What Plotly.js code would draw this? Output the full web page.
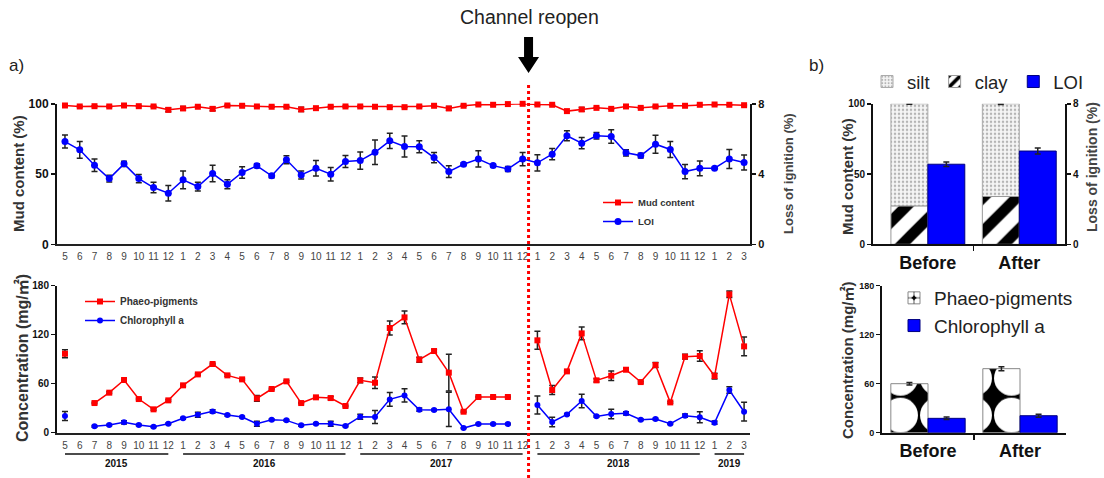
<!DOCTYPE html>
<html>
<head>
<meta charset="utf-8">
<script src="https://cdn.plot.ly/plotly-3.0.1.min.js"></script>
<style>html,body{margin:0;padding:0;background:#fff;}#chart{width:1104px;height:478px;}</style>
</head>
<body>
<div id="chart"></div>
<script>
// ---------- DATA ----------
const months = [5,6,7,8,9,10,11,12, 1,2,3,4,5,6,7,8,9,10,11,12, 1,2,3,4,5,6,7,8,9,10,11,12, 1,2,3,4,5,6,7,8,9,10,11,12, 1,2,3];
const mudContent = [98.8,98.1,98.3,98.1,98.8,98.3,98.1,95.7, 96.7,97.9,96.4,98.8,98.6,98.1,97.9,97.9,96.0,96.9,97.9,98.1, 98.1,97.9,97.6,97.6,98.1,98.6,96.7,98.6,99.5,99.3,99.8,100, 99.5,99.3,94.8,96.0,97.1,96.4,98.1,97.1,98.1,98.6,98.6,99.3, 99.5,99.3,99.0];
const mudErr = [0.3,0.3,0.3,0.3,0.3,0.3,0.3,1.3, 1.3,0.3,1.3,0.3,0.3,0.3,0.3,0.3,1.5,0.3,0.3,0.3, 0.3,0.3,0.3,0.3,0.3,0.3,1.3,0.3,0.3,0.3,0.3,0.3, 0.3,0.3,0.3,1.3,0.3,0.3,0.3,0.3,0.3,0.3,0.3,0.3, 0.3,0.3,0.3];
const loi = [5.85,5.38,4.50,3.74,4.58,3.74,3.23,2.91, 3.67,3.29,4.03,3.42,4.09,4.47,3.90,4.81,3.95,4.33,3.99,4.71, 4.77,5.24,5.89,5.57,5.55,4.94,4.14,4.56,4.86,4.48,4.29,4.85, 4.64,5.13,6.18,5.76,6.18,6.14,5.21,5.05,5.70,5.40,4.14,4.33, 4.33,4.86,4.66];
const loiErr = [0.37,0.48,0.36,0.19,0.15,0.23,0.30,0.44, 0.51,0.25,0.47,0.25,0.33,0.11,0.11,0.23,0.23,0.44,0.39,0.34, 0.49,0.70,0.43,0.60,0.34,0.29,0.33,0.08,0.46,0.08,0.14,0.38, 0.46,0.32,0.29,0.32,0.19,0.38,0.18,0.13,0.51,0.46,0.41,0.42, 0.06,0.54,0.43];
const phaeo = [96.7,null,36.3,49.0,64.5,41.2,28.6,39.6, 58.0,71.4,84.1,70.2,65.3,42.0,53.5,62.9,36.3,43.3,42.4,32.7, 64.1,61.2,128.2,141.2,89.4,100.0,73.5,25.7,43.7,43.7,43.7,null, 113.1,52.2,75.1,121.6,64.1,69.8,77.1,62.0,82.9,37.1,93.1,93.9, 69.4,169.4,105.7];
const phaeoErr = [5,null,1,1,1,1,1,1, 1,1,1,1,1,3.5,1,1,1,1,2,1, 3,7,8.5,7.8,3,2,22.5,1,1,1,1,null, 11,5.5,1,7.8,2,5.9,1,1,3,1,3,6.5, 3.5,4,11.5];
const chl = [20.4,null,7.8,9.4,12.7,9.4,7.3,11.0, 17.6,22.0,26.1,21.6,19.2,11.0,15.9,15.1,9.0,11.0,11.0,8.2, 19.6,19.2,40.8,45.7,28.2,27.8,28.6,5.7,10.6,10.6,10.6,null, 33.9,13.1,22.4,38.8,20.0,22.9,23.7,15.9,16.7,11.0,20.8,18.8, 12.2,52.2,25.7];
const chlErr = [5.5,null,1,1,2,1,1,1, 1,3,2,1,1,3,1,1,1,1,3,1, 3,8,8.5,8,2,1,21,0.5,1,1,1,null, 11,5.7,1,8.3,1,5.7,2,1,1,1,2,6.7, 2,4,11.5];

const years = ['2015','2016','2017','2018','2019'];
const yearStart = [0,8,20,32,44];
const yearEnd = [7,19,31,43,46];
const reopenX = 31.4;

const groups = ['Before','After'];
const clay = [27.2, 34.0];
const silt = [72.8, 66.0];
const siltErr = [0.3, 0.5];
const loiMean = [4.56, 5.31];
const loiMeanErr = [0.13, 0.17];
const phaeoMean = [60.0, 78.4];
const phaeoMeanErr = [1.5, 2.5];
const chlMean = [17.6, 20.8];
const chlMeanErr = [1.5, 1.8];

// ---------- HELPERS ----------
const W = 1104, H = 478;
const px = v => v / W;
const py = v => 1 - v / H;
const FONT = 'Liberation Sans, Arial, Noto Sans CJK SC, sans-serif';
const RED = '#ff0000', BLUE = '#0000ff';
const idx = months.map((_, i) => i);
const gx = groups.map((_, i) => i);
const BW = 0.404;

const errStyle = arr => ({type:'data', array:arr, visible:true, color:'#222', thickness:1.5, width:3});

const traces = [
  {x: idx, y: mudContent, xaxis:'x', yaxis:'y', name:'Mud content', legend:'legend', mode:'lines+markers',
   line:{color:RED, width:1.5}, marker:{symbol:'square', size:6, color:RED}, error_y: errStyle(mudErr), cliponaxis:false},
  {x: idx, y: loi, xaxis:'x', yaxis:'y2', name:'LOI', legend:'legend', mode:'lines+markers',
   line:{color:BLUE, width:1.5}, marker:{symbol:'circle', size:7, color:BLUE}, error_y: errStyle(loiErr), cliponaxis:false},
  {x: idx, y: phaeo, xaxis:'x2', yaxis:'y3', name:'Phaeo-pigments', legend:'legend2', mode:'lines+markers',
   line:{color:RED, width:1.5}, marker:{symbol:'square', size:6, color:RED}, error_y: errStyle(phaeoErr), connectgaps:false, cliponaxis:false},
  {x: idx, y: chl, xaxis:'x2', yaxis:'y3', name:'Chlorophyll a', legend:'legend2', mode:'lines+markers',
   line:{color:BLUE, width:1.5}, marker:{symbol:'circle', size:6, color:BLUE}, error_y: errStyle(chlErr), connectgaps:false, cliponaxis:false},
  // b) top
  {type:'bar', x: gx, y: silt, base: clay, xaxis:'x3', yaxis:'y4', name:'silt', legend:'legend3', width:BW, offset:-BW,
   marker:{color:'#f3f3f3', pattern:{shape:'.', fgcolor:'#b5b5b5', bgcolor:'#f5f5f5', size:4, solidity:0.3}, line:{color:'#aaaaaa', width:1}},
   error_y: errStyle(siltErr)},
  {type:'bar', x: gx, y: clay, xaxis:'x3', yaxis:'y4', name:'clay', legend:'legend3', width:BW, offset:-BW,
   marker:{color:'#ffffff', pattern:{shape:'/', fgcolor:'#000000', bgcolor:'#ffffff', size:24, solidity:0.45}, line:{color:'#999999', width:1}}},
  {type:'bar', x: gx, y: loiMean, xaxis:'x3', yaxis:'y5', name:'LOI', legend:'legend3', width:BW, offset:0,
   marker:{color:BLUE, line:{color:'#000080', width:1}}, error_y: errStyle(loiMeanErr)},
  // b) bottom
  {type:'bar', x: gx, y: phaeoMean, xaxis:'x4', yaxis:'y6', name:'Phaeo-pigments', legend:'legend4', width:BW, offset:-BW,
   marker:{color:'#000000', pattern:{shape:'.', fgcolor:'#ffffff', bgcolor:'#000000', size:37, solidity:0.7}, line:{color:'#888888', width:1}},
   error_y: errStyle(phaeoMeanErr)},
  {type:'bar', x: gx, y: chlMean, xaxis:'x4', yaxis:'y6', name:'Chlorophyll a', legend:'legend4', width:BW, offset:0,
   marker:{color:BLUE, line:{color:'#000080', width:1}}, error_y: errStyle(chlMeanErr)}
];

const LX = [px(57), px(750)];
const TY = [py(244.3), py(103.8)];
const BY = [py(432.7), py(285.7)];

const monthTick = {family:FONT, size:10, color:'#444'};
const yTick = (s) => ({family:FONT, size:s, color:'#111', weight:'bold'});
const yBase = {showline:true, linecolor:'#111', linewidth:2, ticks:'outside', ticklen:4, tickwidth:1.5, tickcolor:'#111',
  showgrid:false, zeroline:false, fixedrange:true};
const xMonth = {range:[-0.54, 46.4], tickmode:'array', tickvals: idx, ticktext: months.map(String), tickfont: monthTick,
  showline:true, linecolor:'#222', linewidth:2, ticks:'', showgrid:false, zeroline:false, ticklabelstandoff:2};
const xGroup = {tickmode:'array', tickvals: gx, ticktext: groups, tickfont:{family:FONT, size:18, color:'#111', weight:'bold'},
  showline:true, linecolor:'#111', linewidth:2, ticks:'', showgrid:false, zeroline:false, ticklabelstandoff:1,
  minor:{tickvals:[0.5], ticks:'outside', ticklen:5, tickwidth:1.5, tickcolor:'#111'}};

const textAnn = (text, x, y, font, extra) => Object.assign({text, x:px(x), y:py(y), xref:'paper', yref:'paper',
  xanchor:'center', yanchor:'middle', showarrow:false, font}, extra || {});
const titleAnn = (text, x, y, size, color) => textAnn(text, x, y, {family:FONT, size, color, weight:'bold'}, {textangle:-90});

const annotations = [
  textAnn('Channel reopen', 529, 17, {family:FONT, size:19.5, color:'#222'}),
  textAnn('a)', 16.5, 66, {family:FONT, size:17, color:'#222'}),
  textAnn('b)', 816, 66, {family:FONT, size:17, color:'#222'}),
  titleAnn('Mud content (%)', 18, 174, 15, '#333'),
  titleAnn('Loss of ignition (%)', 788, 174, 13, '#444'),
  titleAnn('Concentration (mg/㎡)', 22, 358, 16, '#333'),
  titleAnn('Mud content (%)', 847, 177, 15, '#333'),
  titleAnn('Loss of ignition (%)', 1092, 167, 14, '#444'),
  titleAnn('Concentration (mg/㎡)', 847, 360, 15, '#333')
];
years.forEach((yr, i) => {
  annotations.push({text:yr, x:(yearStart[i] + yearEnd[i]) / 2, xref:'x2', y:py(463), yref:'paper', showarrow:false,
    xanchor:'center', yanchor:'middle', font:{family:FONT, size:10, color:'#111', weight:'bold'}});
});

const shapes = [];
years.forEach((yr, i) => {
  shapes.push({type:'line', xref:'x2', yref:'paper', x0:yearStart[i], x1:yearEnd[i], y0:py(454), y1:py(454),
    line:{color:'#111', width:1.5}});
});
shapes.push({type:'line', xref:'x', yref:'paper', x0:reopenX, x1:reopenX, y0:0, y1:py(84), layer:'above',
  line:{color:RED, width:3, dash:'dot'}});
shapes.push({type:'path', xref:'x', xsizemode:'pixel', xanchor:reopenX, yref:'paper', layer:'above',
  path:`M -4.5,${py(37)} L 4.5,${py(37)} L 4.5,${py(57)} L 10.5,${py(57)} L 0,${py(73)} L -10.5,${py(57)} L -4.5,${py(57)} Z`,
  fillcolor:'#000', line:{width:0}});

const legBase = {bgcolor:'rgba(0,0,0,0)', borderwidth:0, xref:'paper', yref:'paper', xanchor:'left', yanchor:'top', traceorder:'normal'};

const layout = {
  width: W, height: H,
  margin:{l:0, r:0, t:0, b:0},
  paper_bgcolor:'#ffffff', plot_bgcolor:'rgba(0,0,0,0)',
  font:{family:FONT, color:'#222'},
  barmode:'overlay',
  showlegend:true,
  xaxis: Object.assign({}, xMonth, {domain:LX, anchor:'y'}),
  yaxis: Object.assign({}, yBase, {domain:TY, anchor:'x', range:[0,100], tickvals:[0,50,100], tickfont:yTick(12)}),
  yaxis2: Object.assign({}, yBase, {overlaying:'y', side:'right', anchor:'x', range:[0,8], tickvals:[0,4,8], tickfont:yTick(11)}),
  xaxis2: Object.assign({}, xMonth, {domain:LX, anchor:'y3'}),
  yaxis3: Object.assign({}, yBase, {domain:BY, anchor:'x2', range:[0,180], tickvals:[0,60,120,180], tickfont:yTick(10)}),
  xaxis3: Object.assign({}, xGroup, {domain:[px(873), px(1065)], anchor:'y4', range:[-0.6, 1.5]}),
  yaxis4: Object.assign({}, yBase, {domain:TY, anchor:'x3', range:[0,100], tickvals:[0,50,100], tickfont:yTick(10)}),
  yaxis5: Object.assign({}, yBase, {overlaying:'y4', side:'right', anchor:'x3', range:[0,8], tickvals:[0,4,8], tickfont:yTick(10)}),
  xaxis4: Object.assign({}, xGroup, {domain:[px(882), px(1066)], anchor:'y6', range:[-0.5, 1.5]}),
  yaxis6: Object.assign({}, yBase, {domain:BY, anchor:'x4', range:[0,180], tickvals:[0,60,120,180], tickfont:yTick(9)}),
  legend: Object.assign({}, legBase, {x:px(598), y:py(188), tracegroupgap:0, font:{family:FONT, size:9.5, color:'#333', weight:'bold'}}),
  legend2: Object.assign({}, legBase, {x:px(80), y:py(287), font:{family:FONT, size:10, color:'#333', weight:'bold'}}),
  legend3: Object.assign({}, legBase, {x:px(867), y:py(63), orientation:'h', font:{family:FONT, size:18.5, color:'#222'}}),
  legend4: Object.assign({}, legBase, {x:px(894), y:py(279), font:{family:FONT, size:19, color:'#222'}}),
  annotations, shapes
};

Plotly.newPlot('chart', traces, layout, {staticPlot:true, displayModeBar:false});
</script>
</body>
</html>
